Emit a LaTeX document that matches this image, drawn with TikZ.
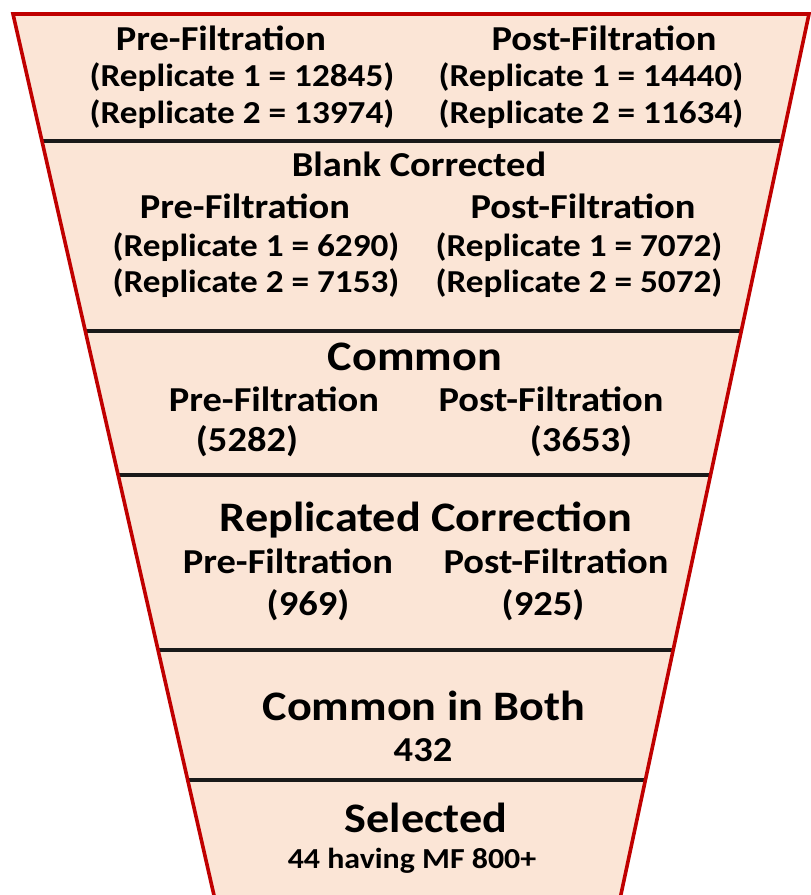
\documentclass[tikz,border=0pt]{standalone}
\usepackage{fontspec}
\setmainfont{Carlito}[FakeStretch=1.1]
\definecolor{funnelfill}{HTML}{FBE5D6}
\definecolor{funnelred}{HTML}{C00000}
\tikzset{
  lg/.style={anchor=base,inner sep=0pt,font=\fontsize{42}{50}\selectfont\bfseries},
  md/.style={anchor=base,inner sep=0pt,font=\fontsize{35}{42}\selectfont\bfseries},
  sm/.style={anchor=base,inner sep=0pt,font=\fontsize{32}{38}\selectfont\bfseries},
  xs/.style={anchor=base,inner sep=0pt,font=\fontsize{29}{34}\selectfont\bfseries},
  divider/.style={draw=black!90,line width=4pt},
  border/.style={draw=funnelred,line width=3.6pt,line join=miter},
}
\begin{document}
\begin{tikzpicture}[x=1pt,y=-1pt]
\useasboundingbox (0,0) rectangle (811,895);
\clip (0,0) rectangle (811,895);
% funnel corners
\coordinate (TL) at (13,14);
\coordinate (TR) at (809,14);
\coordinate (BR) at (618.7,905);
\coordinate (BL) at (216.2,905);
\fill[funnelfill] (TL) -- (TR) -- (BR) -- (BL) -- cycle;
% dividers
\coordinate (L1) at (42.1,141);  \coordinate (R1) at (781.0,141);
\coordinate (L2) at (85.7,331);  \coordinate (R2) at (740.4,331);
\coordinate (L3) at (118.7,475); \coordinate (R3) at (709.6,475);
\coordinate (L4) at (158.8,650); \coordinate (R4) at (672.3,650);
\coordinate (L5) at (188.6,780); \coordinate (R5) at (644.6,780);
\draw[divider] (L1) -- (R1);
\draw[divider] (L2) -- (R2);
\draw[divider] (L3) -- (R3);
\draw[divider] (L4) -- (R4);
\draw[divider] (L5) -- (R5);
\draw[border] (BL) -- (TL) -- (TR) -- (BR);
% row 1
\node[md] (a1) at (221,50) {Pre-Filtration};
\node[md] (a2) at (604,50) {Post-Filtration};
\node[sm] (a3) at (242,86) {(Replicate 1 = 12845)};
\node[sm] (a4) at (591,86) {(Replicate 1 = 14440)};
\node[sm] (a5) at (242,123) {(Replicate 2 = 13974)};
\node[sm] (a6) at (591,123) {(Replicate 2 = 11634)};
% row 2
\node[md] (b0) at (419,176) {Blank Corrected};
\node[md] (b1) at (245,218) {Pre-Filtration};
\node[md] (b2) at (583,218) {Post-Filtration};
\node[sm] (b3) at (256,256) {(Replicate 1 = 6290)};
\node[sm] (b4) at (579,256) {(Replicate 1 = 7072)};
\node[sm] (b5) at (256,292) {(Replicate 2 = 7153)};
\node[sm] (b6) at (579,292) {(Replicate 2 = 5072)};
% row 3
\node[lg] (c0) at (415,370) {Common};
\node[md] (c1) at (274,411) {Pre-Filtration};
\node[md] (c2) at (551,411) {Post-Filtration};
\node[md] (c3) at (247,451) {(5282)};
\node[md] (c4) at (581,451) {(3653)};
% row 4
\node[lg] (d0) at (426,531) {Replicated Correction};
\node[md] (d1) at (288,573) {Pre-Filtration};
\node[md] (d2) at (556,573) {Post-Filtration};
\node[md] (d3) at (308,615) {(969)};
\node[md] (d4) at (543,615) {(925)};
% row 5
\node[lg] (e0) at (424,720) {Common in Both};
\node[md] (e1) at (423,761) {432};
% row 6
\node[lg] (f0) at (426,832) {Selected};
\node[xs] (f1) at (412,868) {44 having MF 800+};
\end{tikzpicture}
\end{document}
